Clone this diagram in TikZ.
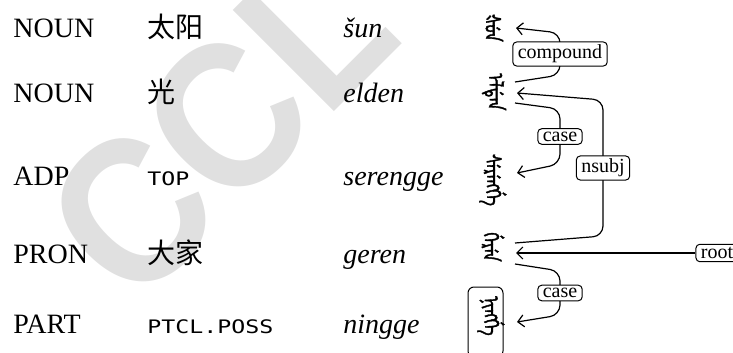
\documentclass[tikz,border=0pt]{standalone}
\usepackage{fontspec}
\usepackage{graphicx}
\setmainfont{Liberation Serif}
\newfontfamily\cjk{Noto Sans CJK SC}
\newfontfamily\glossfont[FakeStretch=1.25]{DejaVu Sans Mono}
\newfontfamily\markfont{Liberation Sans}
\IfFontExistsTF{Noto Sans Mongolian}
  {\newfontfamily\mncfont[Script=Mongolian, FakeBold=2]{Noto Sans Mongolian}}
  {\newfontfamily\mncfont{DejaVu Sans}}
\newcommand{\mncword}[1]{\scalebox{0.75}[1]{#1}}
\usetikzlibrary{arrows.meta, calc}
\tikzset{
  upos/.style={anchor=base west, inner sep=0pt, font=\fontsize{14}{17}\selectfont},
  zh/.style={anchor=base west, inner sep=0pt, font=\cjk\fontsize{14}{17}\selectfont},
  gls/.style={anchor=base west, inner sep=0pt, font=\glossfont\fontsize{9.3}{11}\selectfont},
  translit/.style={anchor=base west, inner sep=0pt, font=\itshape\fontsize{14}{17}\selectfont},
  mnc/.style={rotate=-90, inner sep=0pt, font=\mncfont\fontsize{11}{13}\selectfont},
  deplabel/.style={draw, rounded corners=2pt, fill=white, line width=0.5pt,
                   inner xsep=2.5pt, inner ysep=1.5pt, font=\fontsize{10}{12}\selectfont},
  deparc/.style={draw, line width=0.6pt, rounded corners=5pt,
                 -{Straight Barb[length=3pt,width=6pt]}},
  wmark/.style={anchor=base west, rotate=45, inner sep=0pt, text=black!12,
                font=\markfont\bfseries\fontsize{104}{104}\selectfont},
}

\begin{document}
\begin{tikzpicture}[x=0.5pt, y=-0.5pt]
\useasboundingbox (0,0) rectangle (733,353);

% watermark
\node[wmark] (ccl) at (134,312) {\scalebox{0.9}[1]{CCL}};

% part of speech
\node[upos] (p1) at (13,37.5) {NOUN};
\node[upos] (p2) at (13,103) {NOUN};
\node[upos] (p3) at (13,185.5) {ADP};
\node[upos] (p4) at (13,263.5) {PRON};
\node[upos] (p5) at (13,333.5) {PART};

% chinese glosses
\node[zh] (g1) at (147,37.5) {太阳};
\node[zh] (g2) at (147,103) {光};
\node[gls] (g3) at (147,185.5) {TOP};
\node[zh] (g4) at (147,263.5) {大家};
\node[gls] (g5) at (147,333.5) {PTCL.POSS};

% transliteration
\node[translit] (t1) at (343,37.5) {šun};
\node[translit] (t2) at (343,103) {elden};
\node[translit] (t3) at (343,185.5) {serengge};
\node[translit] (t4) at (343,263.5) {geren};
\node[translit] (t5) at (343,333.5) {ningge};

% manchu words
\node[mnc] (w1) at (494,28) {\mncword{ᡧᡠᠨ}};
\node[mnc] (w2) at (494,92) {\mncword{ᡝᠯᡩᡝᠨ}};
\node[mnc] (w3) at (493,180) {\mncword{ᠰᡝᡵᡝᠩᡤᡝ}};
\node[mnc] (w4) at (493,247) {\mncword{ᡤᡝᡵᡝᠨ}};
\node[mnc] (w5) at (491,316) {\mncword{ᠨᡳᠩᡤᡝ}};
\node[draw, rounded corners=3pt, line width=0.5pt, minimum width=17.5pt,
      minimum height=35pt] (w5box) at (485.5,322) {};

\coordinate (ax) at (516,0);
\node[deplabel] (rt) at (717,253) {root};

% dependency arcs
\draw[deparc] ($(ax |- w2)+(-1,-10)$) -- ($(ax |- w2)+(44,-17)$)
  -- node[deplabel] {compound} ($(ax |- w1)+(44,5)$) -- (ax |- w1);
\draw[deparc] ($(ax |- w4)+(-1,-4)$) -- ($(ax |- w4)+(87,-11)$)
  -- node[deplabel] {nsubj} ($(ax |- w2)+(87,8)$) -- ($(ax |- w2)+(1,1)$);
\draw[deparc] ($(ax |- w2)+(-1,11)$) -- ($(ax |- w2)+(44,17)$)
  -- node[deplabel] {case} ($(ax |- w3)+(44,-16)$) -- ($(ax |- w3)+(1,-7)$);
\draw[deparc] (rt) -- (ax |- rt);
\draw[deparc] ($(ax |- w4)+(-1,17)$) -- ($(ax |- w4)+(44,24)$)
  -- node[deplabel] {case} ($(ax |- w5)+(44,-1)$) -- ($(ax |- w5)+(1,6)$);
\end{tikzpicture}
\end{document}
